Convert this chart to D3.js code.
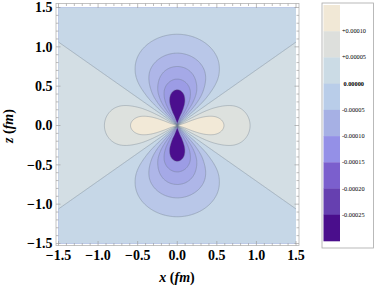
<!DOCTYPE html>
<html><head><meta charset="utf-8">
<script src="https://cdn.jsdelivr.net/npm/d3@7"></script>
<style>body{margin:0;background:#fff}svg{display:block}</style>
</head><body>
<svg id="c" width="374" height="287"></svg>
<script>
// ---- data ----
const contourLevels = [-0.00025, -0.00020, -0.00015, -0.00010, -0.00005, 0, 0.00005, 0.00010];
// plot fill colours, from lowest band (< -0.00025) to highest (> 0.00010)
const bandColors = ["#4b0f8e", "#9c9ce5", "#a5a9e7", "#aeb6e8", "#b9c7e8", "#c6d7e7", "#d3dee4", "#dde1de", "#f2e9d7"];
// legend colours, top to bottom
const legendColors = ["#f1e8d6", "#dddfdc", "#cbdbe5", "#b9cde9", "#a6b0e4", "#9490e7", "#7b5fcd", "#6640b0", "#4a0e8c"];
const legendLabels = ["+0.00010", "+0.00005", "0.00000", "-0.00005", "-0.00010", "-0.00015", "-0.00020", "-0.00025"];
const xTicks = [-1.5, -1.0, -0.5, 0.0, 0.5, 1.0, 1.5];
const xTickLabels = ["\u22121.5", "\u22121.0", "\u22120.5", "0.0", "0.5", "1.0", "1.5"];
const yTicks = [-1.5, -1.0, -0.5, 0.0, 0.5, 1.0, 1.5];
const yTickLabels = ["\u22121.5", "\u22121.0", "\u22120.5", "0.0", "0.5", "1.0", "1.5"];
// radial profile read along the z axis (magnitude of the density, fm)
const radialR   = [0, 0.1, 0.2, 0.3, 0.455, 0.59, 0.75, 0.92, 1.16, 1.5, 1.9, 2.4];
const radialAmp = [2.5e-4, 2.8e-4, 3.0e-4, 2.93e-4, 2.5e-4, 2.0e-4, 1.5e-4, 1.0e-4, 0.5e-4, 0.14e-4, 0.025e-4, 0.002e-4];

// ---- monotone cubic interpolation of the radial profile ----
function makeMonotone(xs, ys) {
  const n = xs.length, d = [], m = new Array(n);
  for (let i = 0; i < n - 1; i++) d.push((ys[i + 1] - ys[i]) / (xs[i + 1] - xs[i]));
  m[0] = d[0]; m[n - 1] = d[n - 2];
  for (let i = 1; i < n - 1; i++) m[i] = (d[i - 1] * d[i] <= 0) ? 0 : (d[i - 1] + d[i]) / 2;
  for (let i = 0; i < n - 1; i++) {
    if (d[i] === 0) { m[i] = 0; m[i + 1] = 0; continue; }
    const a = m[i] / d[i], b = m[i + 1] / d[i], s = a * a + b * b;
    if (s > 9) { const t = 3 / Math.sqrt(s); m[i] = t * a * d[i]; m[i + 1] = t * b * d[i]; }
  }
  return function (x) {
    if (x >= xs[n - 1]) return ys[n - 1];
    let i = d3.bisectRight(xs, x) - 1; if (i < 0) i = 0;
    const h = xs[i + 1] - xs[i], t = (x - xs[i]) / h, t2 = t * t, t3 = t2 * t;
    return (2 * t3 - 3 * t2 + 1) * ys[i] + (t3 - 2 * t2 + t) * h * m[i] + (-2 * t3 + 3 * t2) * ys[i + 1] + (t3 - t2) * h * m[i + 1];
  };
}
const amp = makeMonotone(radialR, radialAmp);

// ---- layout ----
const svg = d3.select("#c");
const xs = d3.scaleLinear().domain([-1.5, 1.5]).range([58.5, 296]);
const ys = d3.scaleLinear().domain([-1.5, 1.5]).range([243.5, 7.5]);

// ---- grid ----
const g0 = -1.6, step = 0.01, n = 321;
const values = new Float64Array(n * n);
for (let j = 0; j < n; j++) {
  const z = g0 + j * step;
  for (let i = 0; i < n; i++) {
    const x = g0 + i * step;
    const r2 = x * x + z * z;
    let v = 0;
    if (r2 > 1e-12) {
      const r = Math.sqrt(r2), c2 = z * z / r2;
      v = -amp(r) * (3 * c2 - 1) / 2;
    }
    values[j * n + i] = v;
  }
}
const contours = d3.contours().size([n, n]).thresholds(contourLevels)(values);
const proj = d3.geoTransform({
  point: function (gx, gy) {
    this.stream.point(xs(g0 + (gx - 0.5) * step), ys(g0 + (gy - 0.5) * step));
  }
});
const path = d3.geoPath(proj);

svg.append("clipPath").attr("id", "clip").append("rect")
  .attr("x", xs(-1.5)).attr("y", ys(1.5))
  .attr("width", xs(1.5) - xs(-1.5)).attr("height", ys(-1.5) - ys(1.5));
const plot = svg.append("g").attr("clip-path", "url(#clip)");
plot.append("rect").attr("x", xs(-1.5)).attr("y", ys(1.5))
  .attr("width", xs(1.5) - xs(-1.5)).attr("height", ys(-1.5) - ys(1.5))
  .attr("fill", bandColors[0]);
plot.selectAll("path.fill").data(contours).enter().append("path")
  .attr("class", "fill").attr("d", path)
  .attr("fill", (d, i) => bandColors[i + 1]).attr("stroke", "none");
plot.selectAll("path.line").data(contours).enter().append("path")
  .attr("class", "line").attr("d", path)
  .attr("fill", "none").attr("stroke", "#6e7c88").attr("stroke-opacity", 0.55).attr("stroke-width", 0.7);

// ---- frame and ticks ----
const fx0 = 56, fx1 = 299, fy0 = 3.5, fy1 = 245.5;
svg.append("rect").attr("x", fx0).attr("y", fy0).attr("width", fx1 - fx0).attr("height", fy1 - fy0)
  .attr("fill", "none").attr("stroke", "#b4b4b4").attr("stroke-width", 0.8);
const minor = d3.range(-15, 16).map(k => k / 10);
const tk = svg.append("g").attr("stroke", "#a0a0a0").attr("stroke-width", 0.7);
minor.forEach(v => {
  const major = Math.abs(v * 2 - Math.round(v * 2)) < 1e-6;
  const L = major ? 4.5 : 2.5;
  const px = xs(v), py = ys(v);
  tk.append("line").attr("x1", px).attr("x2", px).attr("y1", fy1).attr("y2", fy1 - L);
  tk.append("line").attr("x1", px).attr("x2", px).attr("y1", fy0).attr("y2", fy0 + L);
  tk.append("line").attr("y1", py).attr("y2", py).attr("x1", fx0).attr("x2", fx0 + L);
  tk.append("line").attr("y1", py).attr("y2", py).attr("x1", fx1).attr("x2", fx1 - L);
});

const font = "'Liberation Serif','Times New Roman',serif";
svg.append("g").selectAll("text").data(xTicks).enter().append("text")
  .attr("x", d => xs(d)).attr("y", 259.5).attr("text-anchor", "middle")
  .attr("font-family", font).attr("font-weight", "bold").attr("font-size", 14)
  .text((d, i) => xTickLabels[i]);
svg.append("g").selectAll("text").data(yTicks).enter().append("text")
  .attr("x", 52.5).attr("y", d => ys(d) + 4.8).attr("text-anchor", "end")
  .attr("font-family", font).attr("font-weight", "bold").attr("font-size", 14)
  .text((d, i) => yTickLabels[i]);

const xl = svg.append("text").attr("x", 177).attr("y", 282).attr("text-anchor", "middle")
  .attr("font-family", font).attr("font-weight", "bold").attr("font-size", 14);
xl.append("tspan").attr("font-style", "italic").text("x");
xl.append("tspan").text(" (");
xl.append("tspan").attr("font-style", "italic").text("fm");
xl.append("tspan").text(")");
const zl = svg.append("text").attr("transform", "translate(13,126) rotate(-90)").attr("text-anchor", "middle")
  .attr("font-family", font).attr("font-weight", "bold").attr("font-size", 14);
zl.append("tspan").attr("font-style", "italic").text("z");
zl.append("tspan").text(" (");
zl.append("tspan").attr("font-style", "italic").text("fm");
zl.append("tspan").text(")");

// ---- legend ----
const lg = svg.append("g");
lg.append("rect").attr("x", 322).attr("y", 3).attr("width", 51.5).attr("height", 245)
  .attr("fill", "#fff").attr("stroke", "#a8a8a8").attr("stroke-width", 0.8);
const ly = d3.scaleLinear().domain([0, legendColors.length]).range([5, 241]);
lg.selectAll("rect.band").data(legendColors).enter().append("rect").attr("class", "band")
  .attr("x", 323.5).attr("y", (d, i) => ly(i)).attr("width", 16.5).attr("height", ly(1) - ly(0) + 0.3)
  .attr("fill", d => d);
lg.selectAll("text").data(legendLabels).enter().append("text")
  .attr("x", (d, i) => i === 2 ? 343.5 : 342).attr("y", (d, i) => ly(i + 1) + 2)
  .attr("font-family", font).attr("font-size", 6.3)
  .attr("font-weight", (d, i) => i === 2 ? "bold" : "normal")
  .text(d => d);
</script>
</body></html>
